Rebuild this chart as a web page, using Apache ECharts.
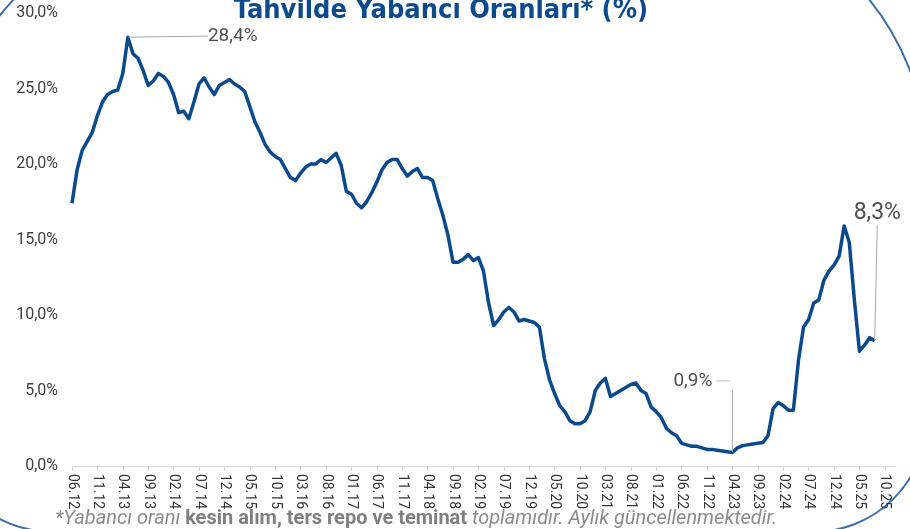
<!DOCTYPE html>
<html>
<head>
<meta charset="utf-8">
<script src="https://cdn.jsdelivr.net/npm/echarts@6/dist/echarts.min.js"></script>
<style>
html,body{margin:0;padding:0;background:#fff;}
#chart{width:910px;height:529px;}
</style>
</head>
<body>
<div id="chart"></div>
<script>
// Monthly categories from 06.12 to 12.25 (labels shown every 5 months)
var startYear = 2012, startMonth = 6, monthCount = 163;
var categories = [];
for (var k = 0; k < monthCount; k++) {
  var m = (startMonth - 1 + k) % 12 + 1;
  var y = startYear + Math.floor((startMonth - 1 + k) / 12);
  categories.push((m < 10 ? '0' : '') + m + '.' + String(y).slice(2));
}

// Foreign share in bonds (%), monthly, 06.12 .. 08.25
var foreignShare = [
  17.4,19.6,20.9,21.5,22.1,23.2,24.1,24.6,24.8,24.9,
  26.0,28.4,27.3,27.0,26.2,25.2,25.5,26.0,25.8,25.4,
  24.6,23.4,23.5,23.0,24.1,25.3,25.7,25.1,24.6,25.2,
  25.4,25.6,25.3,25.1,24.8,23.8,22.8,22.1,21.3,20.8,
  20.5,20.3,19.7,19.1,18.9,19.4,19.8,20.0,20.0,20.3,
  20.1,20.4,20.7,19.9,18.2,18.0,17.4,17.1,17.5,18.1,
  18.8,19.6,20.1,20.3,20.3,19.7,19.2,19.5,19.7,19.1,
  19.1,18.9,17.7,16.6,15.3,13.5,13.5,13.7,14.0,13.6,
  13.8,12.9,10.8,9.3,9.7,10.2,10.5,10.2,9.6,9.7,
  9.6,9.5,9.2,7.1,5.7,4.8,4.0,3.6,3.0,2.8,
  2.8,3.0,3.6,5.0,5.5,5.8,4.6,4.8,5.0,5.2,
  5.4,5.5,5.0,4.8,3.9,3.6,3.2,2.5,2.2,2.0,
  1.5,1.4,1.3,1.3,1.2,1.1,1.1,1.05,1.0,0.95,
  0.9,1.2,1.35,1.4,1.45,1.5,1.55,2.0,3.8,4.2,
  4.0,3.7,3.7,7.0,9.2,9.7,10.8,11.0,12.3,12.9,
  13.3,13.9,15.9,14.8,11.0,7.6,8.0,8.5,8.3
];

// Annotated points (peak, trough, latest)
var annotIndex = [11, 130, 158];

var yTicks = {min: 0, max: 30, interval: 5};

function pct(v) { return v.toFixed(1).replace('.', ',') + '%'; }

var annotData = annotIndex.map(function (i) { return [i, foreignShare[i]]; });

var chart = echarts.init(document.getElementById('chart'), null, {renderer: 'canvas'});
var LINE = '#0a4a8c';
var GUIDE = '#a8a8a8';

chart.setOption({
  animation: false,
  backgroundColor: '#ffffff',
  grid: {left: 72, right: 15, top: 13, bottom: 63, containLabel: false},
  xAxis: {
    type: 'category',
    data: categories,
    boundaryGap: false,
    axisLine: {show: true, lineStyle: {color: '#d9d9d9', width: 1}},
    axisTick: {show: true, interval: 4, length: 5, lineStyle: {color: '#d9d9d9'}},
    axisLabel: {interval: 4, rotate: -90, margin: 8, fontSize: 14,
      fontFamily: 'Roboto, sans-serif', color: '#333333'},
    splitLine: {show: false}
  },
  yAxis: {
    type: 'value',
    min: yTicks.min, max: yTicks.max, interval: yTicks.interval,
    axisLine: {show: false},
    axisTick: {show: false},
    splitLine: {show: false},
    axisLabel: {formatter: pct, fontSize: 16, margin: 14,
      fontFamily: 'Roboto, sans-serif', color: '#404040'}
  },
  series: [
    {
      type: 'line',
      data: foreignShare,
      showSymbol: false,
      symbol: 'none',
      lineStyle: {color: LINE, width: 3.5, join: 'round'},
      emphasis: {disabled: true},
      silent: true,
      z: 2
    },
    {
      type: 'scatter',
      data: annotData,
      symbolSize: 1,
      itemStyle: {color: LINE},
      silent: true,
      z: 3,
      label: {
        show: true,
        formatter: function (p) {
          var t = pct(p.value[1]);
          if (p.dataIndex === 1) return '{m|' + t + '}{g|\u00a0}{st|\u00a0}{s|\u00a0}';
          if (p.dataIndex === 2) return '{big|' + t + '}';
          return '{n|' + t + '}';
        },
        fontFamily: 'Roboto, sans-serif',
        fontSize: 19,
        color: '#222222',
        rich: {
          n: {fontFamily: 'Roboto, sans-serif', fontSize: 19, color: '#222222'},
          m: {fontFamily: 'Roboto, sans-serif', fontSize: 19, color: '#222222', lineHeight: 2},
          g: {width: 4, fontSize: 2, lineHeight: 2},
          st: {width: 14, height: 1, fontSize: 1, lineHeight: 2, backgroundColor: GUIDE},
          s: {width: 61, fontSize: 2, lineHeight: 2},
          big: {fontFamily: 'Roboto, sans-serif', fontSize: 23, color: '#222222'}
        }
      },
      labelLine: {show: true, lineStyle: {color: GUIDE, width: 1}},
      labelLayout: function (params) {
        var r = params.rect;
        var cx = r.x + r.width / 2, cy = r.y + r.height / 2;
        var lr = params.labelRect;
        if (params.dataIndex === 0) {
          return {x: cx + 80, y: cy - lr.height / 2 - 1};
        }
        if (params.dataIndex === 1) {
          return {x: cx - 59, y: cy - 63 - lr.height / 2};
        }
        return {x: cx - 21, y: cy - 127 - lr.height / 2};
      }
    }
  ],
  graphic: [
    {
      type: 'rect',
      silent: true,
      shape: {x: -66, y: -97, width: 993, height: 629, r: [300, 260, 114, 120]},
      style: {fill: 'none', stroke: '#3d6fa6', lineWidth: 2}
    },
    {
      type: 'text',
      silent: true,
      x: 441, y: 11,
      style: {
        text: 'Tahvilde Yabancı Oranları* (%)',
        font: 'bold 27px "Liberation Sans Narrow", "DejaVu Sans Condensed", sans-serif',
        fill: '#0b4a8c',
        align: 'center',
        verticalAlign: 'middle'
      }
    },
    {
      type: 'text',
      silent: true,
      x: 55, y: 519,
      style: {
        text: '*Yabancı oranı {b|kesin alım, ters repo ve teminat} toplamıdır. Aylık güncellenmektedir.',
        fontFamily: 'Roboto, sans-serif',
        fontSize: 20,
        fontStyle: 'italic',
        fill: '#8c8c8c',
        align: 'left',
        verticalAlign: 'middle',
        rich: {
          b: {fontFamily: 'Roboto, sans-serif', fontSize: 20, fontWeight: 'bold', fontStyle: 'normal', fill: '#7f7f7f'}
        }
      }
    }
  ]
});
</script>
</body>
</html>
